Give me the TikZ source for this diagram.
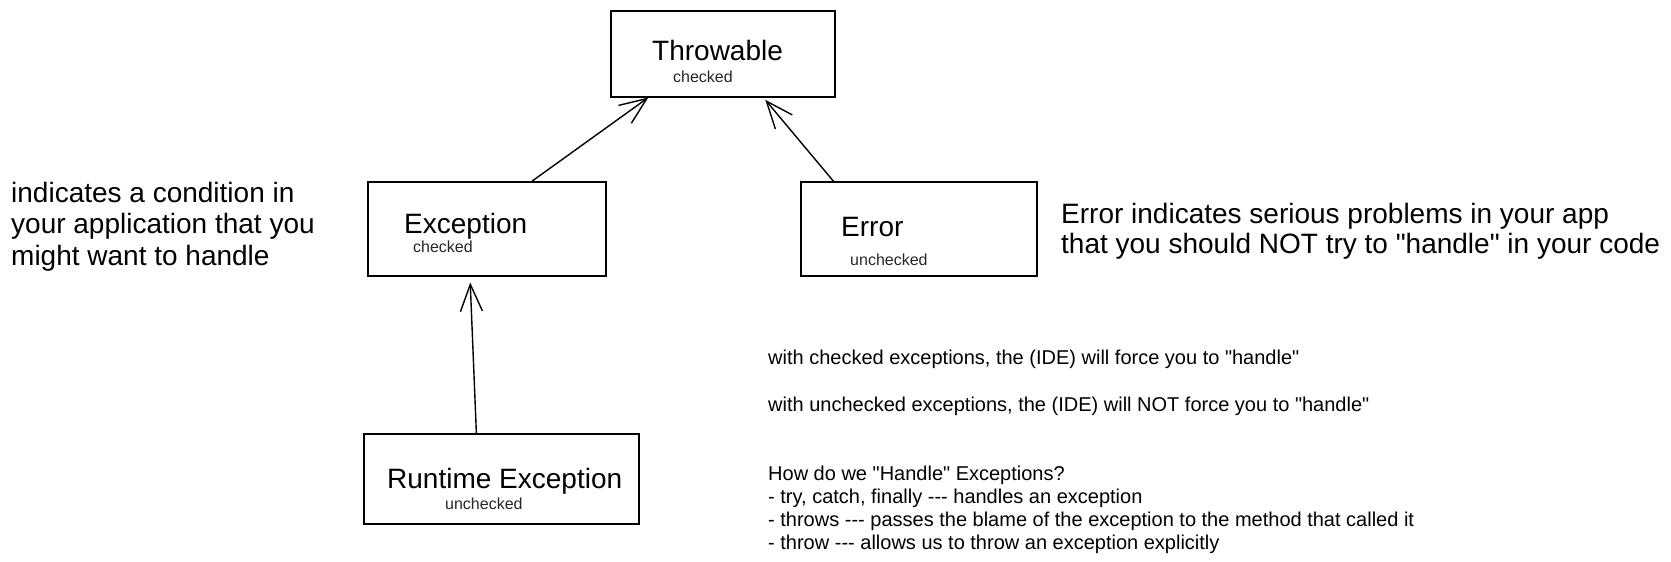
\documentclass[tikz,border=0pt]{standalone}
\usepackage{fontspec}
\setmainfont{Liberation Sans}[Ligatures=TeXOff]
\usetikzlibrary{arrows.meta, calc}
\tikzset{
	x=1pt, y=-1pt,
	>={Straight Barb[length=27pt, width=22pt]},
	classbox/.style={draw, line width=1.5pt, inner sep=0pt, anchor=north west},
	classname/.style={anchor=base west, inner sep=0pt, font=\fontsize{28}{32}\selectfont},
	kind/.style={anchor=base west, inner sep=0pt, text=black!85, font=\fontsize{16}{19}\selectfont},
	bignote/.style={anchor=base west, inner sep=0pt, align=left},
	smallnote/.style={anchor=base west, inner sep=0pt, align=left, font=\fontsize{20}{23}\selectfont},
	inherit/.style={->, line width=1.4pt, line cap=round}}

\begin{document}
\begin{tikzpicture}
		\useasboundingbox (0,0) rectangle (1671,562);
		
		%Boxes
		\node[classbox, minimum width=224pt, minimum height=86pt] (throwable) at (610,10) {};
		\node[classbox, minimum width=238pt, minimum height=94pt] (exception) at (367,181) {};
		\node[classbox, minimum width=236pt, minimum height=94pt] (error) at (800,181) {};
		\node[classbox, minimum width=275pt, minimum height=90pt] (runtime) at (363,433) {};
		
		%Box texts
		\node[classname] (throwableName) at (652,60) {Throwable};
		\node[kind] (throwableKind) at (673,82) {checked};
		\node[classname] (exceptionName) at (404,233) {Exception};
		\node[kind] (exceptionKind) at (413,252) {checked};
		\node[classname] (errorName) at (841,236) {Error};
		\node[kind] (errorKind) at (850,265) {unchecked};
		\node[classname] (runtimeName) at (387,488) {Runtime Exception};
		\node[kind] (runtimeKind) at (445,509) {unchecked};
		
		%Notes (anchored at the last line)
		\node[bignote, font=\fontsize{28}{31.5}\selectfont] (exceptionNote) at (11,265)
			{indicates a condition in\\your application that you\\might want to handle};
		\node[bignote, font=\fontsize{28}{30}\selectfont] (errorNote) at (1061,253)
			{Error indicates serious problems in your app\\that you should NOT try to "handle" in your code};
		\node[smallnote] (checkedNote) at (768,364) {with checked exceptions, the (IDE) will force you to "handle"};
		\node[smallnote] (uncheckedNote) at (768,411) {with unchecked exceptions, the (IDE) will NOT force you to "handle"};
		\node[smallnote] (handleNote) at (768,549)
			{How do we "Handle" Exceptions?\\
			- try, catch, finally --- handles an exception\\
			- throws --- passes the blame of the exception to the method that called it\\
			- throw --- allows us to throw an exception explicitly};
		
		%Arrows
		\path
		($(exception.north west)!0.69!(exception.north east)$) edge[inherit] ($(throwable.south west)!0.17!(throwable.south east)$)
		($(error.north west)!0.14!(error.north east)$) edge[inherit, shorten >=3pt] ($(throwable.south west)!0.68!(throwable.south east)$)
		($(runtime.north west)!0.41!(runtime.north east)$) edge[inherit, shorten >=6pt] ($(exception.south west)!0.43!(exception.south east)$)
		;
	\end{tikzpicture}
\end{document}
